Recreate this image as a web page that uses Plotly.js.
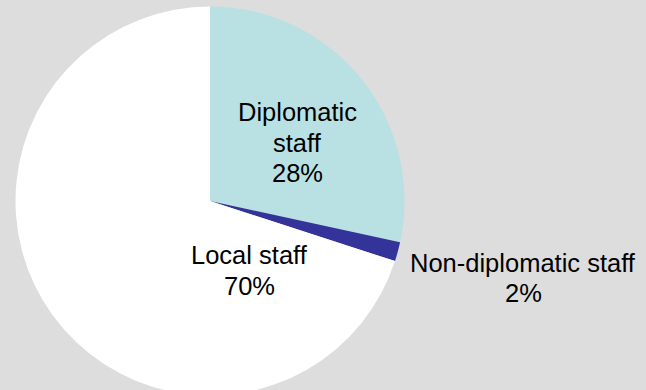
<!DOCTYPE html>
<html>
<head>
<meta charset="utf-8">
<script src="https://cdn.plot.ly/plotly-3.0.1.min.js"></script>
<style>
html, body { margin: 0; padding: 0; overflow: hidden; background: #DDDDDD; }
#chart { width: 646px; height: 402px; }
</style>
</head>
<body>
<div id="chart"></div>
<script>
// Data
const categories = ["Diplomatic staff", "Non-diplomatic staff", "Local staff"];
const shares = [28.4, 1.6, 70.0];
const sliceColors = ["#B9E0E3", "#333399", "#FFFFFF"];

// Label placement (pixel centre of each label block, and its line breaks) - layout only
const labelPos = [
  {x: 297, y: 142.7, lines: ["Diplomatic", "staff"]},
  {x: 523, y: 278.2, lines: ["Non-diplomatic staff"]},
  {x: 249, y: 270.5, lines: ["Local staff"]}
];
const lineStep = 30.5;

const W = 646, H = 402;
const total = shares.reduce((a, b) => a + b, 0);

const trace = {
  type: "pie",
  labels: categories,
  values: shares,
  sort: false,
  direction: "clockwise",
  rotation: 0,
  marker: { colors: sliceColors, line: { width: 0 } },
  textinfo: "none",
  hoverinfo: "label+percent",
  showlegend: false,
  domain: { x: [15.5 / W, 404.5 / W], y: [0, 1] }
};

const annotations = [];
labelPos.forEach((p, i) => {
  const lines = p.lines.concat([Math.round(shares[i] / total * 100) + "%"]);
  const n = lines.length;
  lines.forEach((t, k) => {
    const cy = p.y + (k - (n - 1) / 2) * lineStep;
    annotations.push({
      xref: "paper", yref: "paper",
      x: p.x / W, y: 1 - cy / H,
      xanchor: "center", yanchor: "middle",
      showarrow: false,
      text: t,
      font: { family: "Liberation Sans, Arial, sans-serif", size: 25.5, color: "#000000" }
    });
  });
});

const layout = {
  width: W, height: H,
  margin: { l: 0, r: 0, t: 0, b: 0, pad: 0 },
  paper_bgcolor: "#DDDDDD",
  plot_bgcolor: "#DDDDDD",
  annotations: annotations,
  showlegend: false
};

Plotly.newPlot("chart", [trace], layout, { displayModeBar: false, staticPlot: true });
</script>
</body>
</html>
